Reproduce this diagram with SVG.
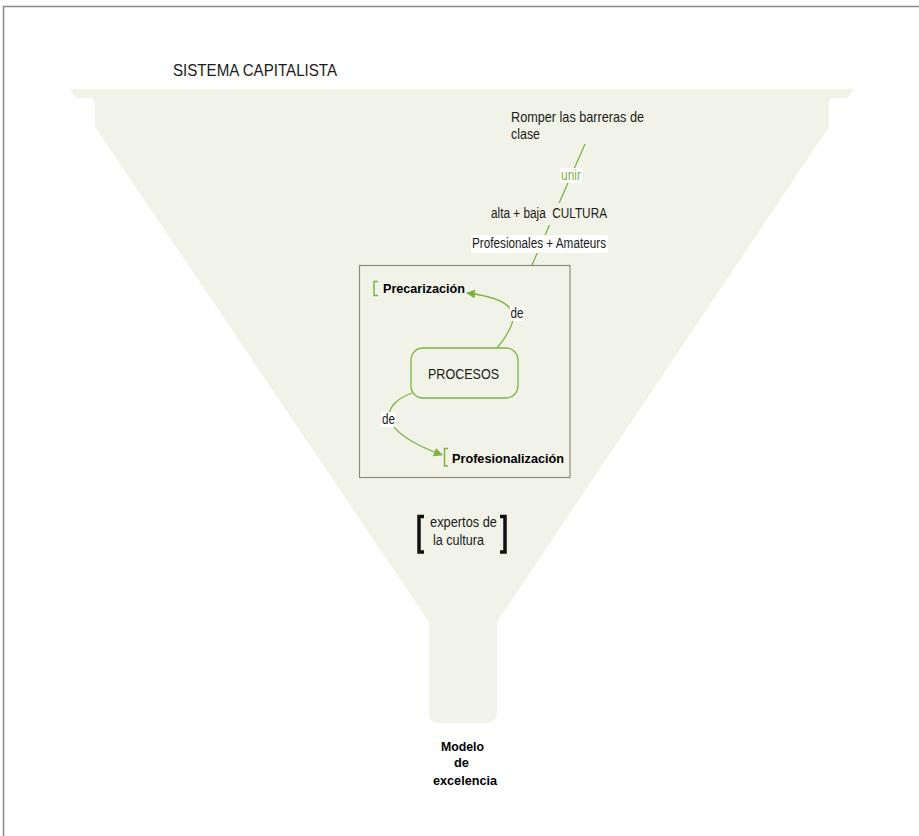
<svg xmlns="http://www.w3.org/2000/svg" width="919" height="836" viewBox="0 0 919 836">
<defs>
<style>
.t{font-family:"Liberation Sans",Arial,sans-serif;fill:#1a1a1a;}
.b{font-weight:bold;fill:#000;}
.g{fill:#7cb342;}
.ln{fill:none;stroke:#7cb342;stroke-width:1.3;}
.br{fill:none;stroke:#7cb342;stroke-width:1.5;}
.kb{fill:none;stroke:#111;stroke-width:3.5;}
</style>
<marker id="ah" viewBox="0 0 10 10" refX="9" refY="5" markerWidth="9" markerHeight="9" markerUnits="userSpaceOnUse" orient="auto">
<path d="M0,0 L10,5 L0,10 z" fill="#7cb342"/>
</marker>
</defs>
<rect x="0" y="0" width="919" height="836" fill="#fff"/>
<path d="M3.5,836 V6.5 H919" fill="none" stroke="#8c8c8c" stroke-width="1.5"/>
<path id="funnel" d="M70,89 H854 L848,98 H834 Q829,98 829,103 V127 L497,622 V712 Q497,723 486,723 H440 Q429,723 429,712 V622 L95,127 V103 Q95,98 90,98 H76 Z" fill="#f2f3e8"/>
<text class="t" x="173" y="76" font-size="17" textLength="164" lengthAdjust="spacingAndGlyphs">SISTEMA CAPITALISTA</text>
<g id="connectors">
<line class="ln" x1="585" y1="144" x2="532" y2="265"/>
<path class="ln" d="M497,348 C520,320 525,300 467,293" marker-end="url(#ah)"/>
<path class="ln" d="M412,393 C380,405 375,430 442,455" marker-end="url(#ah)"/>
</g>
<g id="romper">
<text class="t" font-size="14.5"><tspan x="511" y="122" textLength="133" lengthAdjust="spacingAndGlyphs">Romper las barreras de</tspan><tspan x="511" y="139" textLength="29" lengthAdjust="spacingAndGlyphs">clase</tspan></text>
</g>
<g id="unir">
<rect x="560" y="168" width="22" height="15" fill="#fff"/>
<text class="t g" x="561" y="180" font-size="14" textLength="20" lengthAdjust="spacingAndGlyphs">unir</text>
</g>
<g id="alta">
<rect x="489" y="203" width="120" height="22" fill="#f2f3e8"/>
<text class="t" x="491" y="218" font-size="14" textLength="116" lengthAdjust="spacingAndGlyphs" xml:space="preserve">alta + baja  CULTURA</text>
</g>
<g id="profam">
<rect x="471" y="235" width="137" height="18" fill="#fff"/>
<text class="t" x="472" y="248" font-size="14" textLength="134" lengthAdjust="spacingAndGlyphs">Profesionales + Amateurs</text>
</g>
<g id="marco">
<rect x="359.5" y="265.5" width="210.5" height="212" fill="none" stroke="#8a8a7c" stroke-width="1.2"/>
</g>
<g id="precarizacion">
<path class="br" d="M378,281.5 H374 V295.5 H378"/>
<text class="t b" x="383" y="293" font-size="13" textLength="82" lengthAdjust="spacingAndGlyphs">Precarización</text>
</g>
<g id="de1">
<rect x="510" y="306" width="14" height="15" fill="#fff"/>
<text class="t" x="510.5" y="318" font-size="14" textLength="13" lengthAdjust="spacingAndGlyphs">de</text>
</g>
<g id="procesos">
<rect x="411" y="348" width="107" height="50" rx="12" fill="#f2f3e8" stroke="#7cb342" stroke-width="1.3"/>
<text class="t" x="428" y="379" font-size="15" textLength="71" lengthAdjust="spacingAndGlyphs" fill="#333">PROCESOS</text>
</g>
<g id="de2">
<rect x="381" y="412" width="15" height="15" fill="#fff"/>
<text class="t" x="382" y="424" font-size="14" textLength="13" lengthAdjust="spacingAndGlyphs">de</text>
</g>
<g id="profesionalizacion">
<path class="br" d="M448,448.5 H444.5 V466 H448"/>
<text class="t b" x="452" y="463" font-size="13" textLength="112" lengthAdjust="spacingAndGlyphs">Profesionalización</text>
</g>
<g id="expertos">
<path class="kb" d="M424,516.5 H419 V552 H424"/>
<path class="kb" d="M500,516.5 H505 V552 H500"/>
<text class="t" font-size="14"><tspan x="430" y="527" textLength="67" lengthAdjust="spacingAndGlyphs">expertos de</tspan><tspan x="433" y="545" textLength="51" lengthAdjust="spacingAndGlyphs">la cultura</tspan></text>
</g>
<g id="modelo">
<text class="t b" font-size="13.5"><tspan x="441" y="751" textLength="43" lengthAdjust="spacingAndGlyphs">Modelo</tspan><tspan x="454" y="767" textLength="15" lengthAdjust="spacingAndGlyphs">de</tspan><tspan x="433" y="785" textLength="64" lengthAdjust="spacingAndGlyphs">excelencia</tspan></text>
</g>
</svg>
